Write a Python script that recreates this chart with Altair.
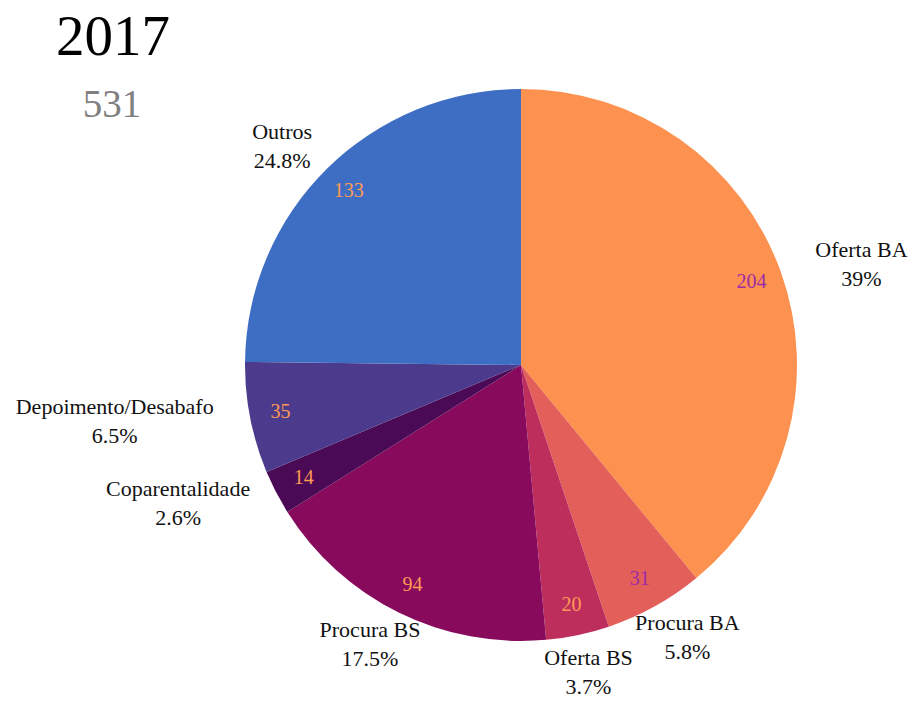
import altair as alt
import pandas as pd

year = "2017"
categories = ["Oferta BA", "Procura BA", "Oferta BS", "Procura BS",
              "Coparentalidade", "Depoimento/Desabafo", "Outros"]
counts = [204, 31, 20, 94, 14, 35, 133]
percents = [39, 5.8, 3.7, 17.5, 2.6, 6.5, 24.8]
slice_colors = ["#FD9150", "#E35F5A", "#BD2E5D", "#870A5C",
                "#4A0A55", "#4C3A8C", "#3E6EC3"]
light_slices = ["Oferta BA", "Procura BA"]

FONT = "Liberation Serif"
CX, CY, R = 513, 357, 276
R_IN = 245
LINE_H = 29

df = pd.DataFrame({
    "category": categories,
    "count": counts,
    "pct": percents,
    "idx": list(range(len(categories))),
})

base = (
    alt.Chart(df)
    .transform_joinaggregate(total="sum(pct)")
    .transform_window(cum="sum(pct)", sort=[alt.SortField("idx")], frame=[None, 0])
    .transform_calculate(
        mid="(datum.cum - datum.pct/2) / datum.total * 2 * PI",
    )
    .transform_calculate(u="sin(datum.mid)", v="-cos(datum.mid)")
)

arcs = alt.Chart(df).mark_arc(radius=R).encode(
    theta=alt.Theta("pct:Q", stack=True),
    color=alt.Color("category:N", scale=alt.Scale(domain=categories, range=slice_colors), legend=None),
    order=alt.Order("idx:Q"),
    x=alt.value(CX),
    y=alt.value(CY),
)

inside = base.transform_calculate(
    ix=f"{CX} + {R_IN} * datum.u",
    iy=f"{CY} + {R_IN} * datum.v",
).mark_text(font=FONT, fontSize=20, baseline="middle", align="center").encode(
    x=alt.X("ix:Q", scale=None, axis=None),
    y=alt.Y("iy:Q", scale=None, axis=None),
    text=alt.Text("count:Q"),
    color=alt.condition(
        alt.FieldOneOfPredicate(field="category", oneOf=light_slices),
        alt.value("#9C2AA4"),
        alt.value("#FD9A55"),
    ),
)

outside = base.transform_calculate(
    pstr="datum.pct + '%'",
).transform_calculate(
    lab="[datum.category, datum.pstr]",
    hw="5.15 * max(length(datum.category), length(datum.pstr))",
).transform_calculate(
    ox=f"{CX} + {R} * datum.u + 42 * datum.u + datum.hw * datum.u * abs(datum.u)",
    oy=f"{CY} + {R} * datum.v + 11 * datum.v + 28 * datum.v * abs(datum.v)",
).mark_text(font=FONT, fontSize=22, lineHeight=LINE_H, baseline="middle", align="center",
            dy=-LINE_H / 2, color="#111111").encode(
    x=alt.X("ox:Q", scale=None, axis=None),
    y=alt.Y("oy:Q", scale=None, axis=None),
    text=alt.Text("lab:N"),
)

title_year = alt.Chart(pd.DataFrame({"year": [year]})).mark_text(
    font=FONT, fontSize=57, color="#000000", align="center", baseline="alphabetic"
).encode(x=alt.value(105), y=alt.value(47), text="year:N")

title_total = alt.Chart(df).transform_aggregate(total="sum(count)").mark_text(
    font=FONT, fontSize=39, color="#808080", align="center", baseline="alphabetic"
).encode(x=alt.value(104), y=alt.value(109), text="total:Q")

chart = alt.layer(arcs, inside, outside, title_year, title_total).properties(
    width=900, height=687, autosize=alt.AutoSizeParams(type="none"), padding=0,
).configure_view(stroke=None)

chart.save("out.html", embed_options={"renderer": "svg", "actions": False})
